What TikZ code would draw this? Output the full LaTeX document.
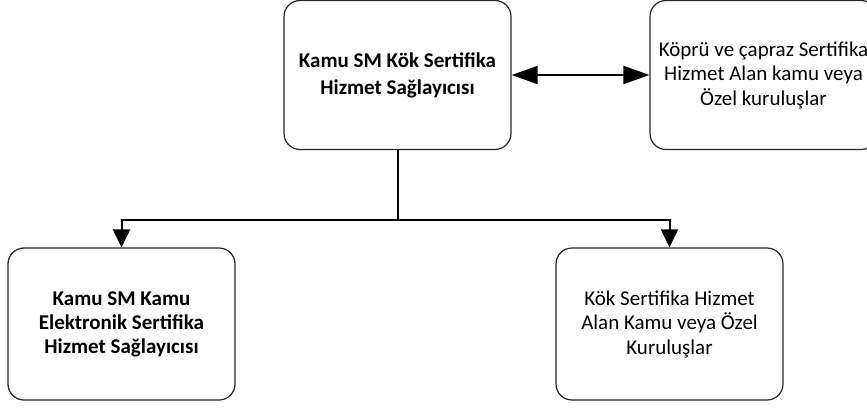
\documentclass[tikz,border=0pt]{standalone}
\usepackage{fontspec}
\setmainfont{Carlito}
\usetikzlibrary{arrows.meta}
\begin{document}
\begin{tikzpicture}[x=1pt,y=-1pt,
  box/.style={draw=black!85,line width=1.2pt,rounded corners=16pt,minimum width=227pt,inner sep=0pt,align=center,font=\fontsize{21}{24.5}\selectfont},
  conn/.style={line width=2pt,-{Triangle[length=18pt,width=17pt]}},
  tip/.tip={Triangle[length=26pt,width=18pt]}]
\useasboundingbox (0,0) rectangle (867,407);
\clip (0,0) rectangle (867,407);
\node[box,minimum height=149pt,font=\fontsize{21}{27}\selectfont\bfseries] (top) at (397.5,75) {Kamu SM Kök Sertifika\\Hizmet Sağlayıcısı};
\node[box,minimum height=149pt] (right) at (763.5,75) {Köprü ve çapraz Sertifika\\Hizmet Alan kamu veya\\Özel kuruluşlar};
\node[box,minimum height=152pt,font=\fontsize{21}{24}\selectfont\bfseries] (bl) at (121.5,324) {Kamu SM Kamu\\Elektronik Sertifika\\Hizmet Sağlayıcısı};
\node[box,minimum height=152pt] (br) at (669.5,324) {Kök Sertifika Hizmet\\Alan Kamu veya Özel\\Kuruluşlar};
\coordinate (j) at (397.5,220);
\draw[line width=2pt] (top.south) -- (j);
\draw[conn] (j) -| (bl.north);
\draw[conn] (j) -| (br.north);
\draw[line width=2pt,tip-tip] (top.east) -- (right.west);
\end{tikzpicture}
\end{document}
